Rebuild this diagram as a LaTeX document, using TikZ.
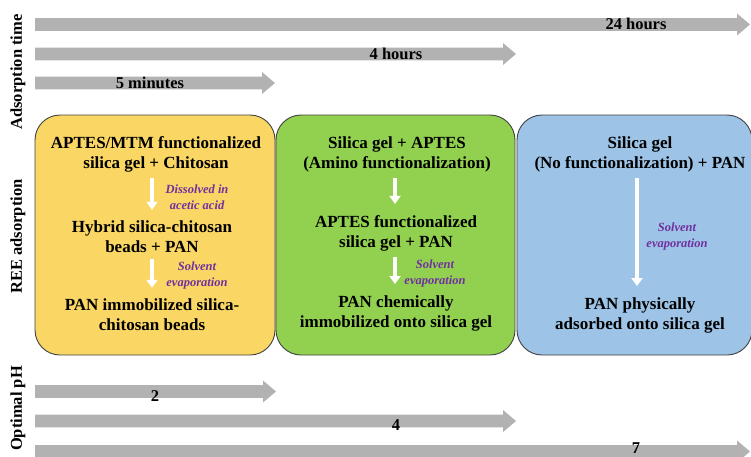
\documentclass[tikz,border=0pt]{standalone}
\usepackage{fontspec}
\setmainfont{Liberation Serif}
\usepackage{tikz}
\usetikzlibrary{arrows.meta}
\definecolor{bargray}{RGB}{178,178,178}
\definecolor{boxyellow}{RGB}{250,214,100}
\definecolor{boxgreen}{RGB}{146,208,80}
\definecolor{boxblue}{RGB}{157,195,230}
\definecolor{condpurple}{RGB}{112,48,160}
\tikzset{
	barlabel/.style={font=\bfseries\fontsize{16.5}{19}\selectfont},
	sidelabel/.style={rotate=90, font=\bfseries\fontsize{16.5}{19}\selectfont},
	stage/.style={draw=black!75, line width=0.9pt, rounded corners=25pt},
	steptext/.style={align=center, inner sep=2pt, font=\bfseries\fontsize{17}{20}\selectfont},
	cond/.style={align=center, inner sep=1pt, text=condpurple, font=\bfseries\itshape\fontsize{12.5}{16}\selectfont},
	down/.style={draw=white, line width=4pt, -{Triangle[width=11pt,length=8pt]}, shorten <=4pt, shorten >=9pt}
}

\begin{document}
\begin{tikzpicture}[x=1pt,y=-1pt] % 按像素坐标作图, y轴向下
	\useasboundingbox (0,0) rectangle (751,456);
	\clip (0,0) rectangle (751,456);
	% 灰色箭头条
	\foreach \y/\xt in {24.5/737, 54/503, 83/262, 391.5/263, 421/503, 451.5/737}
		\fill[bargray] (35,\y-6.3) -- (\xt,\y-6.3) -- (\xt,\y-11) -- (\xt+13,\y) -- (\xt,\y+11) -- (\xt,\y+6.3) -- (35,\y+6.3) -- cycle;
	\node[barlabel] (T1) at (636,24) {24 hours};
	\node[barlabel] (T2) at (396,54) {4 hours};
	\node[barlabel] (T3) at (150,83) {5 minutes};
	\node[barlabel] (P1) at (155,396) {2};
	\node[barlabel] (P2) at (396,425) {4};
	\node[barlabel] (P3) at (636,448.5) {7};
	\node[sidelabel] (S1) at (18,72) {Adsorption time};
	\node[sidelabel] (S2) at (18,236.5) {REE adsorption};
	\node[sidelabel] (S3) at (18,408.5) {Optimal pH};
	% 三种吸附剂
	\draw[stage, fill=boxyellow] (35,115) rectangle (275,355);
	\draw[stage, fill=boxgreen] (276,115) rectangle (515,355);
	\draw[stage, fill=boxblue] (517,115) rectangle (752,355);
	\node[steptext] (Y1) at (156,154) {APTES/MTM functionalized\\silica gel + Chitosan};
	\node[steptext] (Y2) at (152,237) {Hybrid silica-chitosan\\beads + PAN};
	\node[steptext] (Y3) at (152,315) {PAN immobilized silica-\\chitosan beads};
	\node[cond] (YC1) at (197,197) {Dissolved in\\acetic acid};
	\node[cond] (YC2) at (197,275) {Solvent\\evaporation};
	\draw[down] ([xshift=-4pt]Y1.south) -- ([xshift=0pt]Y2.north);
	\draw[down] (Y2.south) -- (Y3.north);
	\node[steptext] (G1) at (397,154) {Silica gel + APTES\\(Amino functionalization)};
	\node[steptext] (G2) at (396,233) {APTES functionalized\\silica gel + PAN};
	\node[steptext] (G3) at (396,313) {PAN chemically\\immobilized onto silica gel};
	\node[cond] (GC) at (435,273.5) {Solvent\\evaporation};
	\draw[down] ([xshift=-2pt]G1.south) -- ([xshift=-1pt]G2.north);
	\draw[down] ([xshift=-1pt]G2.south) -- ([xshift=-1pt]G3.north);
	\node[steptext] (B1) at (640,154) {Silica gel\\(No functionalization) + PAN};
	\node[steptext] (B3) at (640,315) {PAN physically\\adsorbed onto silica gel};
	\node[cond] (BC) at (677,236.5) {Solvent\\evaporation};
	\draw[down] ([xshift=-3pt]B1.south) -- ([xshift=-3pt]B3.north);
\end{tikzpicture}
\end{document}
